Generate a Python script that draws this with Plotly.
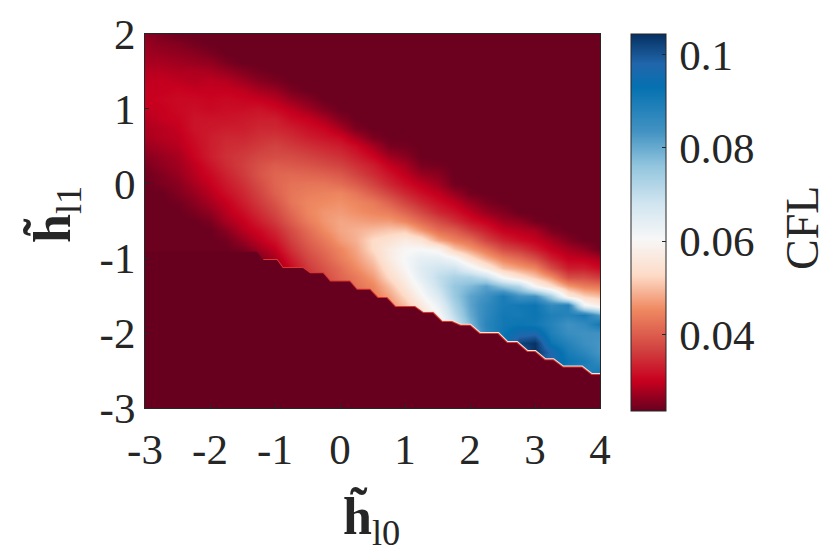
import numpy as np
import plotly.graph_objects as go

h10 = [-3 + 0.25 * i for i in range(29)]
h11 = [2 - 0.125 * i for i in range(41)]

floor = 24

# CFL x 1000, one list per h10 column, from h11=2 downwards
# the columns stop where the dark floor starts
cfl_cols = [
    [26, 27, 27.5, 28, 29, 29.5, 30, 30, 30, 29, 28.5, 28, 27, 26, 25, 24.5],
    [25, 26, 27, 28, 29, 30, 30, 30.5, 30, 30, 29, 29, 28, 27, 26.5, 25.5, 25],
    [24, 25.5, 26.5, 27.5, 28.5, 29.5, 30.5, 31, 31, 30.5, 30, 29.5, 29, 28, 27.5, 27, 26, 25.5, 24.5],
    [24, 24.5, 26, 27, 28.5, 29, 30, 31, 31.5, 32, 32, 31.5, 31, 30.5, 29.5, 29, 28, 27, 26, 25],
    [24, 24, 25, 26.5, 28, 29.5, 30, 30.5, 31, 32, 32.5, 33, 33, 33, 32, 31, 30, 29, 28, 26.5, 25],
    [24] * 3 + [25, 27, 29, 30, 31, 31.5, 32, 33, 34, 34.5, 35, 34.5, 33.5, 32.5, 31.5, 30, 29, 28, 26, 24.5],
    [24] * 4 + [25.5, 27.5, 29.5, 30.5, 31.5, 32.5, 33, 34, 35, 36, 36.5, 36, 35, 34, 33, 31.5, 30, 29, 27, 25],
    [24] * 4 + [24.5, 26, 28, 30, 32, 33, 34, 35, 36, 37.5, 38.5, 39, 38, 37, 36, 34.5, 33, 31, 29.5, 27.5, 25.5, 24.5],
    [24] * 5 + [25, 27, 29, 31, 33, 34, 35.5, 37, 38, 40, 41, 41, 40.5, 39, 37.5, 36, 34, 32, 30, 28, 26, 25],
    [24] * 6 + [25, 27, 29.5, 31, 33, 34.5, 36, 38, 39.5, 41.5, 42.5, 43, 43, 41.5, 40, 38, 36.5, 35, 33, 31, 29, 28, 27],
    [24] * 7 + [25.5, 27.5, 30, 31.5, 33, 35, 37, 39, 41, 43, 44, 45, 45, 44, 42, 40.5, 39, 37.5, 36, 34, 32, 31, 30],
    [24] * 8 + [25.5, 28, 30.5, 32, 34, 36, 38, 40.5, 43, 44.5, 45.5, 46.5, 46.5, 45.5, 43.5, 42, 40.5, 39, 38, 36, 34.5, 33.5, 32.5],
    [24] * 9 + [25.5, 28, 31, 33, 35, 37, 39.5, 42, 45, 46, 47, 48, 48, 47, 45, 44, 42, 41, 40, 38, 37, 36, 35],
    [24] * 10 + [25, 28, 31, 33, 35, 37, 40, 43, 45, 46, 47.5, 49, 49, 48, 47, 45.5, 43.5, 42.5, 41, 39.5, 38.5, 37.5],
    [24] * 11 + [25, 28, 30.5, 33, 34.5, 37, 40, 43.5, 45, 47, 50, 53, 53, 51, 49, 47, 45, 44, 42, 41, 40, 39],
    [24] * 12 + [25, 27.5, 30, 32, 34, 37, 40.5, 44, 47, 51, 54.5, 57, 57, 55, 53, 50, 47.5, 46, 44, 43, 42],
    [24] * 12 + [24.5, 26, 28, 29.5, 31.5, 34, 37, 41, 45, 51, 57, 60, 61, 60, 58, 56, 53, 50, 48, 46, 45, 44],
    [24] * 14 + [25, 27, 29.5, 31.5, 34, 37.5, 41.5, 46.5, 55, 60.5, 64, 65.5, 64.5, 62, 59.5, 56.5, 53.5, 51, 49, 47.5],
    [24] * 14 + [24.5, 26, 27.5, 29.5, 31.5, 34, 38, 42, 48, 59, 64, 68, 70, 69, 66, 63, 60, 57, 54, 52, 50],
    [24] * 16 + [24.5, 27, 29.5, 32, 35, 40, 44.5, 51, 61, 68.5, 73, 75.5, 75, 73, 70.5, 67.5, 64.5, 62, 60, 55],
    [24] * 17 + [24.5, 27, 29.5, 32, 36, 42, 47, 54, 63, 73, 78, 81, 81, 80, 78, 75, 72, 70, 68],
    [24] * 18 + [25, 27, 30, 33, 37, 43, 48.5, 57, 69.5, 81.5, 84, 86, 86.5, 87.5, 86.5, 83.5, 81, 79, 76],
    [24] * 19 + [25.5, 27.5, 30, 33.5, 38, 44, 50, 60, 76, 90, 90, 91, 91, 92, 92, 92, 90, 88],
    [24] * 20 + [26.5, 29, 31.5, 36, 41.5, 47.5, 55, 72, 84, 91, 90.5, 92, 96, 102, 98, 95, 92.5, 88],
    [24] * 20 + [24.5, 28, 30, 33, 38, 45, 51, 60, 84, 92, 92, 91, 97, 104, 104, 100, 98, 95],
    [24] * 21 + [25, 28, 30, 33, 38, 46, 54, 74, 86, 89, 88, 89, 92, 97.5, 97, 94, 91.5, 85],
    [24] * 22 + [25.5, 28, 30, 33, 38, 47, 57, 88, 88, 84, 85, 88, 90, 92, 90, 88, 85],
    [24] * 23 + [26.5, 29.5, 33, 38, 44, 52, 62, 90, 86, 84, 84.5, 87, 90, 88.5, 86, 84],
    [24] * 24 + [28, 31, 36, 43, 50, 57, 82, 91, 84, 83, 83, 86, 90, 85, 82],
]

# lower edge of the stable region, the stairs along the bottom of the band
edge_x = [-3, -1.62, -1.28, -1.18, -0.97, -0.88, -0.57, -0.46, -0.26, -0.15, 0.15, 0.26, 0.46,
          0.58, 0.72, 0.85, 1.15, 1.28, 1.43, 1.57, 1.72, 1.85, 2, 2.15, 2.43, 2.57, 2.72,
          2.88, 3, 3.15, 3.28, 3.43, 3.72, 3.87, 4]
edge_y = [-0.91, -0.91, -0.91, -1.02, -1.02, -1.13, -1.13, -1.2, -1.2, -1.31, -1.31, -1.42, -1.42,
          -1.53, -1.53, -1.65, -1.65, -1.73, -1.73, -1.85, -1.85, -1.9, -1.9, -2.01, -2.01, -2.13, -2.13,
          -2.25, -2.25, -2.36, -2.36, -2.46, -2.46, -2.56, -2.56]

x_ticks = [-3, -2, -1, 0, 1, 2, 3, 4]
y_ticks = [-3, -2, -1, 0, 1, 2]
cb_ticks = [0.04, 0.06, 0.08, 0.1]
cb_labels = ["\u200a0.04", "\u200a0.06", "\u200a0.08", "\u200a0.1"]

cfl_min = 0.0237
cfl_max = 0.1044

colors = [
    [0, "#67001f"], [0.08, "#c8001f"], [0.16, "#d0403f"], [0.27, "#ef8a62"],
    [0.36, "#fddbc7"], [0.455, "#f7f7f7"], [0.55, "#d1e5f0"], [0.65, "#92c5de"],
    [0.74, "#4393c3"], [0.86, "#0571b0"], [0.92, "#2166ac"], [1, "#053061"],
]

ink = "#262626"
font = "Liberation Serif"

z = np.array([c + [floor] * (len(h11) - len(c)) for c in cfl_cols]).T[::-1] / 1000

fig = go.Figure()
fig.add_trace(go.Heatmap(
    x=h10, y=h11[::-1], z=z, zsmooth="best", zmin=cfl_min, zmax=cfl_max,
    colorscale=colors,
    colorbar=dict(
        x=(631 - 145) / 455, xanchor="left", xpad=0, y=1, yanchor="top", ypad=0,
        thickness=35, lenmode="pixels", len=377,
        outlinewidth=1, outlinecolor=ink, tickvals=cb_ticks, ticktext=cb_labels,
        ticks="inside", ticklen=4, tickcolor=ink, tickfont=dict(family=font, size=43, color=ink),
    ),
))

# soft rim, then red rim, then the flat dark region on top
fig.add_trace(go.Scatter(x=edge_x[17:], y=edge_y[17:], mode="lines",
                         line=dict(color="#fbe3d6", width=4), hoverinfo="skip", showlegend=False))
fig.add_trace(go.Scatter(x=edge_x[3:], y=edge_y[3:], mode="lines",
                         line=dict(color="#d8382f", width=2), hoverinfo="skip", showlegend=False))
fig.add_trace(go.Scatter(x=edge_x + [4, -3], y=edge_y + [-3, -3], mode="lines", fill="toself",
                         fillcolor="#67001f", line=dict(width=0), hoverinfo="skip", showlegend=False))

axis_style = dict(showgrid=False, zeroline=False, showline=True, linecolor=ink, linewidth=1, mirror=True,
                  ticks="inside", ticklen=4, tickcolor=ink, tickfont=dict(family=font, size=43, color=ink))
fig.update_xaxes(range=[-3, 4], tickvals=x_ticks, ticktext=[str(t) for t in x_ticks], ticklabelstandoff=3,
                 **axis_style)
fig.update_yaxes(range=[-3, 2], tickvals=y_ticks, ticktext=[str(t) for t in y_ticks], **axis_style)

# titles as annotations, axis titles with a standoff push the margins about
title_font = dict(family=font, size=52, color=ink)
fig.add_annotation(text="<b>h̃</b><sub>l0</sub>", xref="paper", yref="paper", x=(371 - 145) / 455, y=(408 - 520) / 374,
                   xanchor="center", yanchor="middle", showarrow=False, font=title_font)
fig.add_annotation(text="<b>h̃</b><sub>l1</sub>", xref="paper", yref="paper", x=(56 - 145) / 455, y=(408 - 215) / 374,
                   xanchor="center", yanchor="middle", showarrow=False, textangle=-90, font=title_font)
fig.add_annotation(text="CFL", xref="paper", yref="paper", x=(802 - 145) / 455, y=(408 - 228) / 374,
                   xanchor="center", yanchor="middle", showarrow=False, textangle=-90,
                   font=dict(family=font, size=46, color=ink))

# the page adds 8px round the figure
fig.update_layout(width=831, height=560, margin=dict(l=137, r=239, t=26, b=160, autoexpand=False),
                  paper_bgcolor="white", plot_bgcolor="white")
fig.write_html("out.html")
